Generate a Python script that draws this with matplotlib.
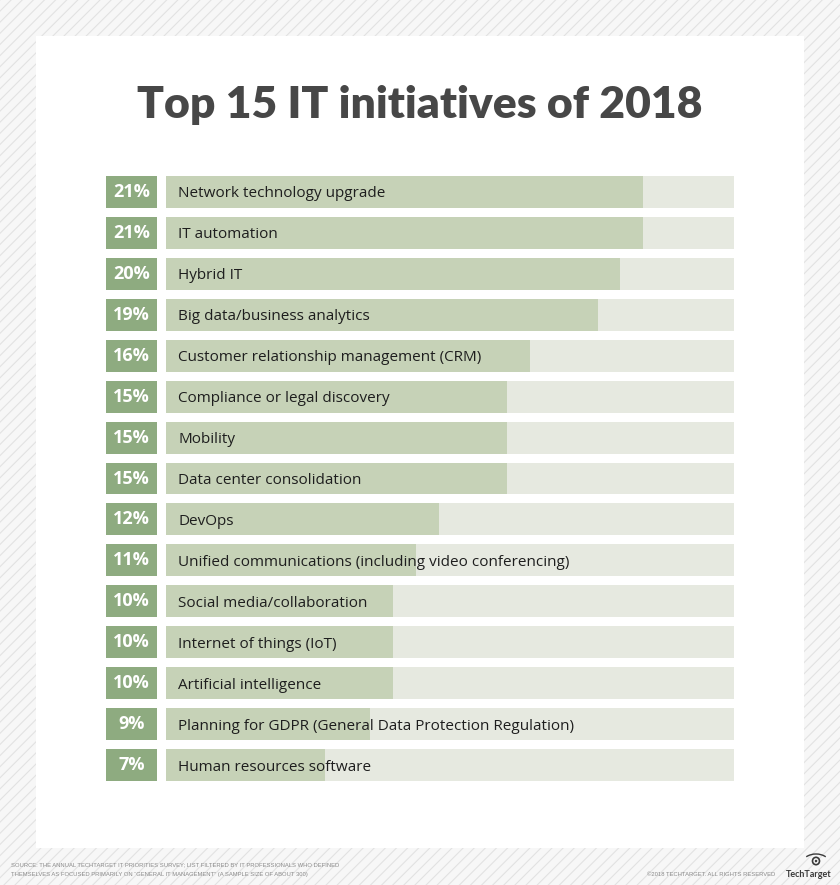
import matplotlib
matplotlib.use("Agg")
import matplotlib.pyplot as plt
from matplotlib.patches import Rectangle, Circle, Arc

labels = [
    "Network technology upgrade",
    "IT automation",
    "Hybrid IT",
    "Big data/business analytics",
    "Customer relationship management (CRM)",
    "Compliance or legal discovery",
    "Mobility",
    "Data center consolidation",
    "DevOps",
    "Unified communications (including video conferencing)",
    "Social media/collaboration",
    "Internet of things (IoT)",
    "Artificial intelligence",
    "Planning for GDPR (General Data Protection Regulation)",
    "Human resources software",
]
values = [21, 21, 20, 19, 16, 15, 15, 15, 12, 11, 10, 10, 10, 9, 7]
scale_max = 25

box_color = "#8eab80"
bar_color = "#c6d2b7"
track_color = "#e6e9e0"
title_color = "#474747"

W, H = 840, 885
fig = plt.figure(figsize=(W / 100, H / 100), dpi=100)

# hatched backdrop + white panel
plt.rcParams["hatch.linewidth"] = 0.8
fig.patches.append(Rectangle((0, 0), 1, 1, transform=fig.transFigure,
                             facecolor="#f7f7f7", edgecolor="#e2e2e2",
                             hatch="///", linewidth=0, zorder=-2))
fig.patches.append(Rectangle((36 / W, 1 - 848 / H), 768 / W, 812 / H,
                             transform=fig.transFigure, facecolor="white",
                             edgecolor="none", zorder=-1))

fig.text(420 / W, 1 - 118 / H, "Top 15 IT initiatives of 2018",
         ha="center", va="baseline", fontsize=32, fontweight="heavy",
         color=title_color, family=["Lato", "DejaVu Sans"])

n = len(values)
rows = list(range(n))
bh = 0.78
ybot = 1 - 781 / H
yh = 605 / H

ax_box = fig.add_axes([106 / W, ybot, 51 / W, yh])
ax = fig.add_axes([166 / W, ybot, 568 / W, yh])

for a in (ax_box, ax):
    a.set_ylim(n - 1 + 0.39, -0.39)
    a.axis("off")

ax_box.set_xlim(0, 1)
ax_box.barh(rows, [1] * n, height=bh, color=box_color)
for i, v in enumerate(values):
    ax_box.text(0.5, i, f"{v}%", ha="center", va="center", color="white",
                fontsize=13, fontweight="bold", family="Open Sans")

ax.set_xlim(0, scale_max)
ax.barh(rows, [scale_max] * n, height=bh, color=track_color)
ax.barh(rows, values, height=bh, color=bar_color)
for i, lab in enumerate(labels):
    ax.annotate(lab, (0, i), xytext=(12, -2), textcoords="offset pixels",
                ha="left", va="center", fontsize=11, color="#1e1e1e",
                family="Open Sans")

foot = dict(fontsize=4.25, color="#8a8a8a", family=["Liberation Sans", "DejaVu Sans"])
fig.text(11 / W, 1 - 866 / H,
         "SOURCE: THE ANNUAL TECHTARGET IT PRIORITIES SURVEY; LIST FILTERED BY IT PROFESSIONALS WHO DEFINED",
         ha="left", va="baseline", **foot)
fig.text(11 / W, 1 - 876 / H,
         "THEMSELVES AS FOCUSED PRIMARILY ON \u201cGENERAL IT MANAGEMENT\u201d (A SAMPLE SIZE OF ABOUT 300)",
         ha="left", va="baseline", **foot)
fig.text(775 / W, 1 - 876 / H, "\u00a92018 TECHTARGET. ALL RIGHTS RESERVED",
         ha="right", va="baseline", **foot)

# logo
fig.text(809 / W, 1 - 877 / H, "TechTarget", ha="center", va="baseline",
         fontsize=6.5, fontweight="bold", color="#3a3a3a",
         family=["Lato", "DejaVu Sans"])
fig.patches.append(Circle((816 / W, 1 - 861 / H), 3.5 / W, transform=fig.transFigure,
                          facecolor="none", edgecolor="#3a3a3a", linewidth=1.2))
fig.patches.append(Circle((816 / W, 1 - 861 / H), 1.2 / W, transform=fig.transFigure,
                          facecolor="#3a3a3a", edgecolor="none"))
fig.patches.append(Arc((816 / W, 1 - 864 / H), 28 / W, 20 / H, theta1=35, theta2=145,
                       transform=fig.transFigure, edgecolor="#3a3a3a", linewidth=1.0))

fig.savefig("out.png", dpi=100)
